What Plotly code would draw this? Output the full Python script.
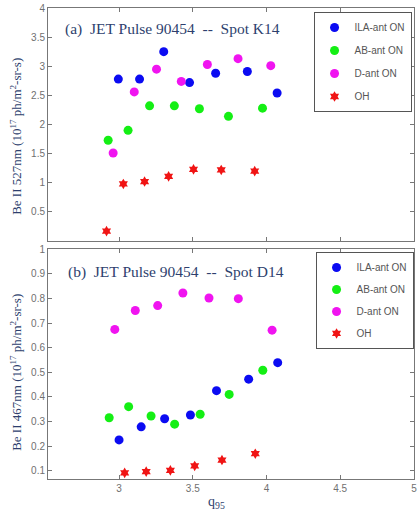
import plotly.graph_objects as go

series_names = ["ILA-ant ON", "AB-ant ON", "D-ant ON", "OH"]
series_colors = ["#0b0bf2", "#14ef14", "#f014f0", "#f01414"]
series_symbols = ["circle", "circle", "circle", "hexagram"]
series_sizes = [9, 9, 9, 8]

# Panel (a): Spot K14, Be II 527nm
a_x = [
    [2.995, 3.139, 3.303, 3.478, 3.655, 3.870, 4.072],
    [2.926, 3.061, 3.207, 3.375, 3.545, 3.742, 3.973],
    [2.960, 3.103, 3.254, 3.422, 3.599, 3.807, 4.029],
    [2.915, 3.029, 3.173, 3.336, 3.505, 3.693, 3.920],
]
a_y = [
    [2.78, 2.78, 3.25, 2.72, 2.88, 2.91, 2.54],
    [1.73, 1.90, 2.32, 2.32, 2.27, 2.14, 2.28],
    [1.51, 2.56, 2.95, 2.74, 3.03, 3.13, 3.01],
    [0.17, 0.98, 1.02, 1.11, 1.23, 1.22, 1.20],
]

# Panel (b): Spot D14, Be II 467nm
b_x = [
    [3.000, 3.150, 3.309, 3.484, 3.661, 3.879, 4.076],
    [2.933, 3.065, 3.217, 3.377, 3.550, 3.747, 3.975],
    [2.971, 3.110, 3.262, 3.433, 3.610, 3.809, 4.038],
    [3.038, 3.184, 3.348, 3.513, 3.698, 3.924],
]
b_y = [
    [0.225, 0.278, 0.311, 0.326, 0.425, 0.472, 0.539],
    [0.315, 0.360, 0.322, 0.289, 0.329, 0.410, 0.508],
    [0.674, 0.751, 0.771, 0.822, 0.802, 0.799, 0.671],
    [0.091, 0.096, 0.101, 0.119, 0.143, 0.169],
]

x_tickvals = [3, 3.5, 4, 4.5, 5]
x_ticktext = ["3", "3.5", "4", "4.5", "5"]
a_tickvals = [0.5, 1, 1.5, 2, 2.5, 3, 3.5, 4]
a_ticktext = ["0.5", "1", "1.5", "2", "2.5", "3", "3.5", "4"]
b_tickvals = [0.1, 0.2, 0.3, 0.4, 0.5, 0.6, 0.7, 0.8, 0.9, 1.0]
b_ticktext = ["0.1", "0.2", "0.3", "0.4", "0.5", "0.6", "0.7", "0.8", "0.9", "1"]

fig = go.Figure()
for i in range(4):
    fig.add_trace(go.Scatter(
        x=a_x[i], y=a_y[i], mode="markers", name=series_names[i],
        marker=dict(color=series_colors[i], symbol=series_symbols[i], size=series_sizes[i],
                    line=dict(width=0)),
        xaxis="x", yaxis="y", legend="legend", legendgroup="a%d" % i))
for i in range(4):
    fig.add_trace(go.Scatter(
        x=b_x[i], y=b_y[i], mode="markers", name=series_names[i],
        marker=dict(color=series_colors[i], symbol=series_symbols[i], size=series_sizes[i],
                    line=dict(width=0)),
        xaxis="x2", yaxis="y2", legend="legend2", legendgroup="b%d" % i))

axis_common = dict(showline=True, linecolor="#777777", linewidth=1, mirror="ticks",
                   ticks="inside", ticklen=4, tickcolor="#777777", showgrid=False,
                   zeroline=False, ticklabeloverflow="allow",
                   tickfont=dict(family="Liberation Sans", size=10, color="#707070"))

serif = "Liberation Serif"
title_col = "#2e3f6e"
legend_common = dict(bgcolor="white", bordercolor="#555555", borderwidth=1,
                     font=dict(family="Liberation Sans", size=10, color="#555555"),
                     xanchor="left", yanchor="top")

fig.update_layout(
    width=419, height=519,
    margin=dict(l=48, r=2, t=6, b=40),
    paper_bgcolor="white", plot_bgcolor="white",
    showlegend=True,
    xaxis=dict(domain=[0, 1], range=[2.518, 5.0005], anchor="y", tickvals=x_tickvals,
               ticktext=x_ticktext, showticklabels=False, **axis_common),
    yaxis=dict(domain=[0.5053, 1], range=[0, 4], anchor="x", tickvals=a_tickvals,
               ticktext=a_ticktext, **axis_common),
    xaxis2=dict(domain=[0, 1], range=[2.518, 5.0005], anchor="y2", tickvals=x_tickvals,
                ticktext=x_ticktext, **axis_common),
    yaxis2=dict(domain=[0, 0.4878], range=[0.066, 1.0], anchor="x2", tickvals=b_tickvals,
                ticktext=b_ticktext, **axis_common),
    legend=dict(x=0.7255, y=0.9915, tracegroupgap=4, **legend_common),
    legend2=dict(x=0.731, y=0.482, tracegroupgap=3, **legend_common),
    annotations=[
        dict(text="(a)  JET Pulse 90454  --  Spot K14", xref="paper", yref="paper",
             x=0.0407, y=0.9556, xanchor="left", yanchor="middle", showarrow=False,
             font=dict(family=serif, size=15.5, color=title_col)),
        dict(text="(b)  JET Pulse 90454  --  Spot D14", xref="paper", yref="paper",
             x=0.048, y=0.4404, xanchor="left", yanchor="middle", showarrow=False,
             font=dict(family=serif, size=15.5, color=title_col)),
        dict(text="Be II 527nm (10<sup>17</sup> ph/m<sup>2</sup>-sr-s)", xref="paper", yref="paper",
             x=-0.0894, y=0.727, xanchor="center", yanchor="middle", textangle=-90,
             showarrow=False, font=dict(family=serif, size=13, color=title_col)),
        dict(text="Be II 467nm (10<sup>17</sup> ph/m<sup>2</sup>-sr-s)", xref="paper", yref="paper",
             x=-0.0894, y=0.226, xanchor="center", yanchor="middle", textangle=-90,
             showarrow=False, font=dict(family=serif, size=13, color=title_col)),
        dict(text="q<sub>95</sub>", xref="paper", yref="paper",
             x=0.461, y=-0.0507, xanchor="center", yanchor="middle",
             showarrow=False, font=dict(family=serif, size=14, color=title_col)),
    ],
)

fig.write_html("out.html")
